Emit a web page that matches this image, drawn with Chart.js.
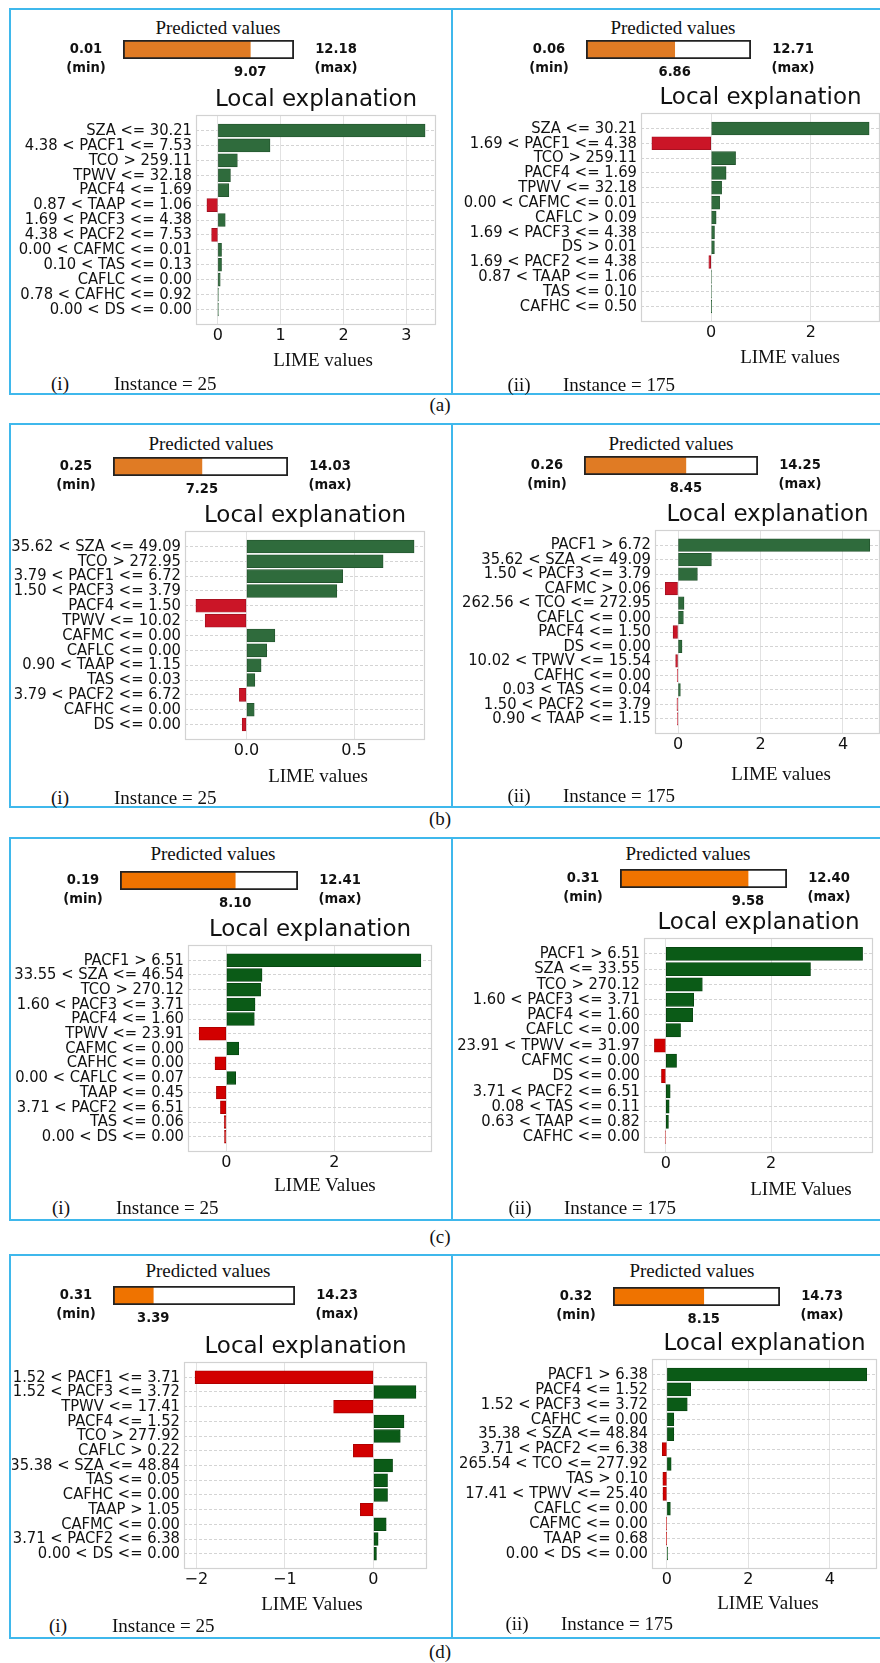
<!DOCTYPE html>
<html>
<head>
<meta charset="utf-8">
<title>LIME local explanations</title>
<script src="https://cdn.jsdelivr.net/npm/chart.js@4.4.1/dist/chart.umd.min.js"></script>
<style>
    html, body { margin: 0; padding: 0; background: #fff; }
    #page { position: relative; width: 880px; height: 1663px; overflow: hidden; background: #fff; }
    #page canvas { position: absolute; }
    .rule { position: absolute; background: #3fb8ec; }
    .serif {
        position: absolute;
        font-family: 'Liberation Serif', 'Times New Roman', serif;
        font-size: 19px;
        line-height: 1;
        color: #111;
        white-space: nowrap;
    }
</style>
</head>
<body>
<div id="page"></div>
<script>
// Predicted values: [min, predicted, max]
const predA1 = [0.01, 9.07, 12.18];
const predA2 = [0.06, 6.86, 12.71];
const predB1 = [0.25, 7.25, 14.03];
const predB2 = [0.26, 8.45, 14.25];
const predC1 = [0.19, 8.10, 12.41];
const predC2 = [0.31, 9.58, 12.40];
const predD1 = [0.31, 3.39, 14.23];
const predD2 = [0.32, 8.15, 14.73];

// Feature rules (top to bottom) and their LIME weights
const labelsA1 = ['SZA <= 30.21', '4.38 < PACF1 <= 7.53', 'TCO > 259.11', 'TPWV <= 32.18', 'PACF4 <= 1.69',
    '0.87 < TAAP <= 1.06', '1.69 < PACF3 <= 4.38', '4.38 < PACF2 <= 7.53', '0.00 < CAFMC <= 0.01',
    '0.10 < TAS <= 0.13', 'CAFLC <= 0.00', '0.78 < CAFHC <= 0.92', '0.00 < DS <= 0.00'];
const valuesA1 = [3.30, 0.83, 0.31, 0.20, 0.175, -0.175, 0.117, -0.10, 0.058, 0.058, 0.037, 0.002, 0.001];

const labelsA2 = ['SZA <= 30.21', '1.69 < PACF1 <= 4.38', 'TCO > 259.11', 'PACF4 <= 1.69', 'TPWV <= 32.18',
    '0.00 < CAFMC <= 0.01', 'CAFLC > 0.09', '1.69 < PACF3 <= 4.38', 'DS > 0.01', '1.69 < PACF2 <= 4.38',
    '0.87 < TAAP <= 1.06', 'TAS <= 0.10', 'CAFHC <= 0.50'];
const valuesA2 = [3.17, -1.19, 0.49, 0.30, 0.21, 0.17, 0.10, 0.067, 0.065, -0.047, 0.012, 0.010, 0.002];

const labelsB1 = ['35.62 < SZA <= 49.09', 'TCO > 272.95', '3.79 < PACF1 <= 6.72', '1.50 < PACF3 <= 3.79',
    'PACF4 <= 1.50', 'TPWV <= 10.02', 'CAFMC <= 0.00', 'CAFLC <= 0.00', '0.90 < TAAP <= 1.15', 'TAS <= 0.03',
    '3.79 < PACF2 <= 6.72', 'CAFHC <= 0.00', 'DS <= 0.00'];
const valuesB1 = [0.779, 0.635, 0.447, 0.42, -0.235, -0.192, 0.132, 0.094, 0.068, 0.039, -0.033, 0.036, -0.02];

const labelsB2 = ['PACF1 > 6.72', '35.62 < SZA <= 49.09', '1.50 < PACF3 <= 3.79', 'CAFMC > 0.06',
    '262.56 < TCO <= 272.95', 'CAFLC <= 0.00', 'PACF4 <= 1.50', 'DS <= 0.00', '10.02 < TPWV <= 15.54',
    'CAFHC <= 0.00', '0.03 < TAS <= 0.04', '1.50 < PACF2 <= 3.79', '0.90 < TAAP <= 1.15'];
const valuesB2 = [4.65, 0.81, 0.47, -0.31, 0.146, 0.13, -0.12, 0.097, -0.057, -0.02, 0.057, -0.025, -0.003];

const labelsC1 = ['PACF1 > 6.51', '33.55 < SZA <= 46.54', 'TCO > 270.12', '1.60 < PACF3 <= 3.71', 'PACF4 <= 1.60',
    'TPWV <= 23.91', 'CAFMC <= 0.00', 'CAFHC <= 0.00', '0.00 < CAFLC <= 0.07', 'TAAP <= 0.45',
    '3.71 < PACF2 <= 6.51', 'TAS <= 0.06', '0.00 < DS <= 0.00'];
const valuesC1 = [3.60, 0.66, 0.634, 0.53, 0.517, -0.505, 0.228, -0.21, 0.172, -0.185, -0.11, -0.04, -0.035];

const labelsC2 = ['PACF1 > 6.51', 'SZA <= 33.55', 'TCO > 270.12', '1.60 < PACF3 <= 3.71', 'PACF4 <= 1.60',
    'CAFLC <= 0.00', '23.91 < TPWV <= 31.97', 'CAFMC <= 0.00', 'DS <= 0.00', '3.71 < PACF2 <= 6.51',
    '0.08 < TAS <= 0.11', '0.63 < TAAP <= 0.82', 'CAFHC <= 0.00'];
const valuesC2 = [3.74, 2.75, 0.694, 0.53, 0.51, 0.28, -0.217, 0.204, -0.083, 0.083, 0.064, 0.05, -0.012];

const labelsD1 = ['1.52 < PACF1 <= 3.71', '1.52 < PACF3 <= 3.72', 'TPWV <= 17.41', 'PACF4 <= 1.52', 'TCO > 277.92',
    'CAFLC > 0.22', '35.38 < SZA <= 48.84', 'TAS <= 0.05', 'CAFHC <= 0.00', 'TAAP > 1.05', 'CAFMC <= 0.00',
    '3.71 < PACF2 <= 6.38', '0.00 < DS <= 0.00'];
const valuesD1 = [-2.015, 0.48, -0.45, 0.345, 0.303, -0.227, 0.216, 0.159, 0.159, -0.148, 0.144, 0.053, 0.034];

const labelsD2 = ['PACF1 > 6.38', 'PACF4 <= 1.52', '1.52 < PACF3 <= 3.72', 'CAFHC <= 0.00', '35.38 < SZA <= 48.84',
    '3.71 < PACF2 <= 6.38', '265.54 < TCO <= 277.92', 'TAS > 0.10', '17.41 < TPWV <= 25.40', 'CAFLC <= 0.00',
    'CAFMC <= 0.00', 'TAAP <= 0.68', '0.00 < DS <= 0.00'];
const valuesD2 = [4.91, 0.585, 0.50, 0.17, 0.17, -0.115, 0.105, -0.10, -0.098, 0.085, -0.01, -0.008, 0.02];

// Two colour sets: rows (a)/(b) and rows (c)/(d)
const paletteAB = { green: '#2f6b3c', greenEdge: '#22522c', red: '#cb1527', redEdge: '#9e1020', orange: '#e07b24' };
const paletteCD = { green: '#0b5b17', greenEdge: '#074210', red: '#d20000', redEdge: '#a50000', orange: '#ef7300' };

const SANS = "'DejaVu Sans', Verdana, sans-serif";
const page = document.getElementById('page');

// Use the condensed DejaVu cut for rule labels when the system has it
function hasFont(name) {
    const ctx = document.createElement('canvas').getContext('2d');
    const probe = 'SZA <= 30.21 PACF1 CAFMC 0123456789';
    ctx.font = '40px monospace';
    const w0 = ctx.measureText(probe).width;
    ctx.font = "40px '" + name + "', monospace";
    return Math.abs(ctx.measureText(probe).width - w0) > 0.5;
}
const CONDENSED = hasFont('DejaVu Sans Condensed');
const labelFont = CONDENSED
    ? { family: "'DejaVu Sans Condensed', 'DejaVu Sans'", size: 16.4 }
    : { family: SANS, size: 15 };
const gaugeFont = CONDENSED
    ? "bold 14.6px 'DejaVu Sans Condensed', 'DejaVu Sans'"
    : 'bold 13.5px ' + SANS;

// Panel placement on the page (px)
const panels = [
    { pred: predA1, labels: labelsA1, values: valuesA1, pal: paletteAB, step: 1, dec: 0, axis: 'LIME values', tag: '(i)', inst: 25,
      box: 10, title: [218, 27], bar: [123, 294, 40], plot: [196, 436, 115, 325], xlab: [323, 359], foot: [60, 114, 383] },
    { pred: predA2, labels: labelsA2, values: valuesA2, pal: paletteAB, step: 2, dec: 0, axis: 'LIME values', tag: '(ii)', inst: 175,
      box: 452, title: [673, 27], bar: [586, 751, 40], plot: [641, 880, 113, 322], xlab: [790, 356], foot: [519, 563, 384] },
    { pred: predB1, labels: labelsB1, values: valuesB1, pal: paletteAB, step: 0.5, dec: 1, axis: 'LIME values', tag: '(i)', inst: 25,
      box: 10, title: [211, 443], bar: [113, 288, 457], plot: [185, 425, 531, 740], xlab: [318, 775], foot: [60, 114, 797] },
    { pred: predB2, labels: labelsB2, values: valuesB2, pal: paletteAB, step: 2, dec: 0, axis: 'LIME values', tag: '(ii)', inst: 175,
      box: 452, title: [671, 443], bar: [584, 758, 456], plot: [655, 880, 530, 734], xlab: [781, 773], foot: [519, 563, 795] },
    { pred: predC1, labels: labelsC1, values: valuesC1, pal: paletteCD, step: 2, dec: 0, axis: 'LIME Values', tag: '(i)', inst: 25,
      box: 10, title: [213, 853], bar: [120, 298, 871], plot: [188, 432, 945, 1152], xlab: [325, 1184], foot: [61, 116, 1207] },
    { pred: predC2, labels: labelsC2, values: valuesC2, pal: paletteCD, step: 2, dec: 0, axis: 'LIME Values', tag: '(ii)', inst: 175,
      box: 452, title: [688, 853], bar: [620, 787, 869], plot: [644, 873, 938, 1153], xlab: [801, 1188], foot: [520, 564, 1207] },
    { pred: predD1, labels: labelsD1, values: valuesD1, pal: paletteCD, step: 1, dec: 0, axis: 'LIME Values', tag: '(i)', inst: 25,
      box: 10, title: [208, 1270], bar: [113, 295, 1286], plot: [184, 427, 1362, 1569], xlab: [312, 1603], foot: [58, 112, 1625] },
    { pred: predD2, labels: labelsD2, values: valuesD2, pal: paletteCD, step: 2, dec: 0, axis: 'LIME Values', tag: '(ii)', inst: 175,
      box: 452, title: [692, 1270], bar: [613, 780, 1287], plot: [652, 877, 1359, 1569], xlab: [768, 1602], foot: [517, 561, 1623] }
];

// Row frames and sub-figure captions
const rows = [[9, 394, '(a)', 404], [424, 807, '(b)', 818], [838, 1220, '(c)', 1236], [1255, 1638, '(d)', 1651]];

function addRule(x, y, w, h) {
    const d = document.createElement('div');
    d.className = 'rule';
    d.style.left = x + 'px';
    d.style.top = y + 'px';
    d.style.width = w + 'px';
    d.style.height = h + 'px';
    page.appendChild(d);
}

function addText(str, x, y, centered) {
    const d = document.createElement('div');
    d.className = 'serif';
    d.textContent = str;
    d.style.left = x + 'px';
    d.style.top = y + 'px';
    d.style.transform = centered ? 'translate(-50%, -50%)' : 'translateY(-50%)';
    page.appendChild(d);
}

function addCanvas(x, y, w, h) {
    const c = document.createElement('canvas');
    c.width = w;
    c.height = h;
    c.style.left = x + 'px';
    c.style.top = y + 'px';
    c.style.width = w + 'px';
    c.style.height = h + 'px';
    page.appendChild(c);
    return c;
}

function fmtTick(v, dec) {
    const s = (Math.abs(v) < 1e-9 ? 0 : v).toFixed(dec);
    return s.replace('-', '\u2212');
}

// Orange "Predicted values" gauge with min / max / value captions
function drawPredicted(p) {
    const [lo, val, hi] = p.pred;
    const [x0, x1, y0] = p.bar;
    const padL = 80, padR = 80, padT = 2, padB = 32, barH = 19;
    const cv = addCanvas(x0 - padL, y0 - padT, x1 - x0 + padL + padR, barH + padT + padB);

    const captions = {
        id: 'captions',
        afterDraw(chart) {
            const ctx = chart.ctx;
            const xs = chart.scales.x;
            const a = chart.chartArea;
            const cy = (a.top + a.bottom) / 2;
            ctx.save();
            ctx.fillStyle = '#111';
            ctx.textAlign = 'center';
            ctx.textBaseline = 'middle';
            ctx.font = gaugeFont;
            ctx.fillText(lo.toFixed(2), xs.getPixelForValue(lo) - 37, cy);
            ctx.fillText('(min)', xs.getPixelForValue(lo) - 37, cy + 19);
            ctx.fillText(hi.toFixed(2), xs.getPixelForValue(hi) + 42, cy);
            ctx.fillText('(max)', xs.getPixelForValue(hi) + 42, cy + 19);
            ctx.fillText(val.toFixed(2), xs.getPixelForValue(val), cy + 23);
            ctx.restore();
        }
    };

    new Chart(cv, {
        type: 'bar',
        data: {
            labels: ['predicted'],
            datasets: [
                // outline on top, fill underneath
                { data: [[lo, hi]], backgroundColor: 'rgba(0,0,0,0)', borderColor: '#222', borderWidth: 1.5, borderSkipped: false },
                { data: [[lo, val]], backgroundColor: p.pal.orange, borderWidth: 0 }
            ]
        },
        options: {
            indexAxis: 'y',
            responsive: false,
            animation: false,
            devicePixelRatio: 1,
            layout: { padding: { left: padL, right: padR, top: padT, bottom: padB } },
            datasets: { bar: { grouped: false, barPercentage: 1, categoryPercentage: 1 } },
            plugins: { legend: { display: false }, tooltip: { enabled: false } },
            scales: {
                x: { display: false, min: lo, max: hi },
                y: { display: false }
            }
        },
        plugins: [captions]
    });
}

// Horizontal LIME weight bars
function drawExplanation(p) {
    const [pl, pr, pt, pb] = p.plot;
    const left = p.box + 2;
    const right = Math.min(pr + 3, 880);
    const top = pt - 34;
    const cv = addCanvas(left, top, right - left, pb + 30 - top);

    // axis limits as matplotlib pads them: 5% beyond the bars, zero included
    const lo = Math.min(0, ...p.values);
    const hi = Math.max(0, ...p.values);
    const pad = (hi - lo) * 0.05;
    const xmin = lo - pad, xmax = hi + pad;
    const xticks = [];
    for (let v = Math.ceil(xmin / p.step - 1e-9) * p.step; v <= xmax + 1e-9; v += p.step) {
        xticks.push(Math.round(v * 1000) / 1000);
    }
    const n = p.labels.length;
    const rowPad = 1.04;
    const pitch = (pb - pt) / (n - 1 + 2 * rowPad);

    const frame = {
        id: 'frame',
        beforeDatasetsDraw(chart) {
            const a = chart.chartArea;
            const ctx = chart.ctx;
            ctx.save();
            ctx.strokeStyle = '#d2d2d2';
            ctx.lineWidth = 1.2;
            ctx.strokeRect(a.left + 0.5, a.top + 0.5, a.right - a.left - 1, a.bottom - a.top - 1);
            ctx.restore();
        },
        afterDraw(chart) {
            const a = chart.chartArea;
            const ctx = chart.ctx;
            ctx.save();
            ctx.fillStyle = '#111';
            ctx.font = '23px ' + SANS;
            ctx.textAlign = 'center';
            ctx.textBaseline = 'middle';
            ctx.fillText('Local explanation', (a.left + a.right) / 2, a.top - 15);
            ctx.restore();
        }
    };

    new Chart(cv, {
        type: 'bar',
        data: {
            datasets: [{
                data: p.values.map((v, i) => ({ x: v, y: i })),
                backgroundColor: ctx => (ctx.raw && ctx.raw.x < 0 ? p.pal.red : p.pal.green),
                borderColor: ctx => (ctx.raw && ctx.raw.x < 0 ? p.pal.redEdge : p.pal.greenEdge),
                borderWidth: 0.8,
                borderSkipped: false,
                barThickness: pitch * 0.87
            }]
        },
        options: {
            indexAxis: 'y',
            responsive: false,
            animation: false,
            devicePixelRatio: 1,
            layout: { padding: { left: 0, right: right - pr, top: pt - top, bottom: 0 } },
            plugins: { legend: { display: false }, tooltip: { enabled: false } },
            scales: {
                x: {
                    type: 'linear',
                    min: xmin,
                    max: xmax,
                    afterBuildTicks: s => { s.ticks = xticks.map(v => ({ value: v })); },
                    afterFit: s => { s.height = 30; },
                    ticks: {
                        autoSkip: false,
                        maxRotation: 0,
                        padding: 1,
                        color: '#111',
                        font: { family: SANS, size: 16 },
                        callback: v => fmtTick(v, p.dec)
                    },
                    grid: { color: '#e2e2e2', lineWidth: 1, drawTicks: false },
                    border: { display: false }
                },
                y: {
                    type: 'linear',
                    reverse: true,
                    offset: false,
                    min: -rowPad,
                    max: n - 1 + rowPad,
                    afterBuildTicks: s => { s.ticks = p.labels.map((_, i) => ({ value: i })); },
                    afterFit: s => { s.width = pl - left; },
                    ticks: {
                        autoSkip: false,
                        padding: 4,
                        color: '#111',
                        font: labelFont,
                        callback: v => p.labels[v]
                    },
                    grid: { color: '#d4d4d4', lineWidth: 1, drawTicks: false, offset: false },
                    border: { display: false, dash: [3, 2] }
                }
            }
        },
        plugins: [frame]
    });
}

// Blue frames around each pair of panels
rows.forEach(([y0, y1, cap, capY]) => {
    addRule(9, y0 - 1, 871, 2);
    addRule(9, y1 - 1, 871, 2);
    addRule(9, y0 - 1, 2, y1 - y0 + 2);
    addRule(451, y0 - 1, 2, y1 - y0 + 2);
    addText(cap, 440, capY, true);
});

panels.forEach(p => {
    addText('Predicted values', p.title[0], p.title[1], true);
    drawPredicted(p);
    drawExplanation(p);
    addText(p.axis, p.xlab[0], p.xlab[1], true);
    addText(p.tag, p.foot[0], p.foot[2], true);
    addText('Instance = ' + p.inst, p.foot[1], p.foot[2], false);
});
</script>
</body>
</html>
